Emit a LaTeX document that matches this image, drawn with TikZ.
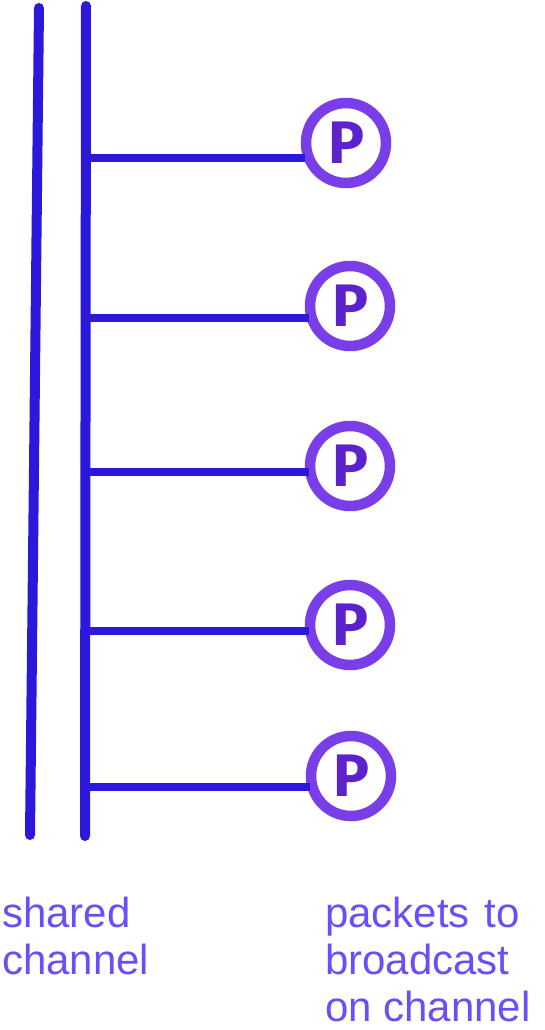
\documentclass[tikz,border=0pt]{standalone}
\usepackage{fontspec}
\setmainfont{Liberation Sans}
\newfontfamily\pfont{Fira Sans}
\definecolor{chan}{RGB}{44,24,218}
\definecolor{ring}{RGB}{122,62,232}
\definecolor{pcol}{RGB}{92,34,204}
\definecolor{lab}{RGB}{108,78,248}
\tikzset{
  wire/.style={draw=chan, line width=10pt, line cap=round},
  tap/.style={draw=chan, line width=7.5pt},
  packet/.style={circle, draw=ring, line width=10.5pt, fill=white, minimum size=80pt, inner sep=0pt,
    font=\pfont\bfseries\fontsize{60}{60}\selectfont, text=pcol},
  label/.style={text=lab, font=\fontsize{42}{47}\selectfont, align=left, inner sep=0pt, anchor=north west}
}
\begin{document}
\begin{tikzpicture}[x=1pt,y=-1pt]
\useasboundingbox (0,0) rectangle (545,1030);
\coordinate (la) at (39,8);
\coordinate (lb) at (30,835);
\coordinate (ra) at (86,6);
\coordinate (rb) at (85,836);
\draw[wire] (la) -- (lb);
\draw[wire] (ra) -- (rb);
\node[packet] (p1) at (346,143) {P};
\node[packet] (p2) at (350,306) {P};
\node[packet] (p3) at (350,466) {P};
\node[packet] (p4) at (350,625) {P};
\node[packet] (p5) at (351,776) {P};
\coordinate (c1) at (86,158);
\coordinate (c2) at (86,318);
\coordinate (c3) at (86,472);
\coordinate (c4) at (85,631);
\coordinate (c5) at (85,787);
\foreach \i in {1,...,5}{
  \draw[tap] (c\i) -- ([xshift=4pt]c\i -| p\i.west);
}
\node[label] (shared) at (2,897) {shared\\channel};
\node[label] (pk) at (325,897) {packets\hspace{0.35em}to\\broadcast\\on channel};
\end{tikzpicture}
\end{document}
